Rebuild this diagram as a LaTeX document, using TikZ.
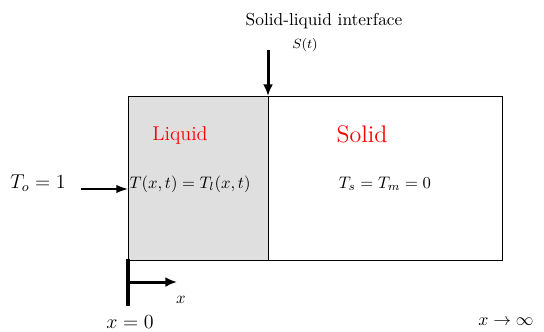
\documentclass[tikz,border=0pt]{standalone}
\usetikzlibrary{arrows.meta}
\begin{document}
\begin{tikzpicture}[x=0.6pt,y=-0.6pt,
  box/.style={draw=black, line width=0.6pt},
  thickarrow/.style={line width=1.8pt, -{Latex[length=7pt,width=6pt]}},
  thinarrow/.style={line width=0.8pt, -{Latex[length=7pt,width=5pt]}},
  redlabel/.style={text=red, inner sep=0pt}]
\useasboundingbox (0,0) rectangle (544,331);
\fill[gray!25] (128,96) rectangle (268,260);
\draw[box] (128,96) rectangle (502,260);
\draw[box] (268,96) -- (268,260);
\node[inner sep=0pt, scale=1.04] (title) at (324,21) {Solid-liquid interface};
\node[inner sep=0pt] (st) at (305,45) {\footnotesize $S(t)$};
\coordinate (arrtop) at (268,50);
\coordinate (iface) at (268,96);
\draw[thickarrow] (arrtop) -- (iface);
\node[redlabel] (liq) at (180,135) {\large Liquid};
\node[redlabel] (sol) at (362,134) {\Large Solid};
\node[inner sep=0pt] (tl) at (190,184) {$T(x,t)=T_l(x,t)$};
\node[inner sep=0pt] (ts) at (385,184) {$T_s=T_m=0$};
\node[inner sep=0pt] (to) at (38,183) {\large $T_o=1$};
\coordinate (tostart) at (81,189);
\coordinate (toend) at (128,189);
\draw[thinarrow] (tostart) -- (toend);
\coordinate (wtop) at (128,259);
\coordinate (wbot) at (128,306);
\draw[line width=2.6pt] (wtop) -- (wbot);
\coordinate (xa) at (127,282);
\coordinate (xb) at (177,282);
\draw[thickarrow] (xa) -- (xb);
\node[inner sep=0pt] (xl) at (181,300) {$x$};
\node[inner sep=0pt] (x0) at (130,322) {\large $x=0$};
\node[inner sep=0pt, scale=1.06] (xinf) at (506,322) {$x\to\infty$};
\end{tikzpicture}
\end{document}
